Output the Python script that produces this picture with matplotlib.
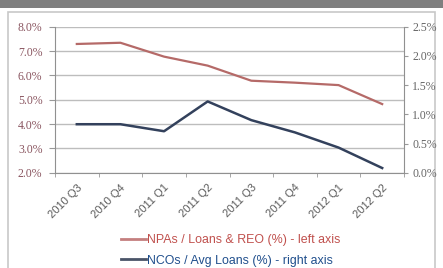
import matplotlib
matplotlib.use('Agg')
import matplotlib.pyplot as plt
from matplotlib.patches import Rectangle
from matplotlib.lines import Line2D
import numpy as np

# Data
quarters = ['2010 Q3', '2010 Q4', '2011 Q1', '2011 Q2', '2011 Q3', '2011 Q4', '2012 Q1', '2012 Q2']
npa_pct = [7.29, 7.34, 6.77, 6.40, 5.78, 5.70, 5.60, 4.82]
nco_pct = [0.83, 0.83, 0.71, 1.22, 0.90, 0.69, 0.43, 0.08]
left_ticks = [2.0, 3.0, 4.0, 5.0, 6.0, 7.0, 8.0]
right_ticks = [0.0, 0.5, 1.0, 1.5, 2.0, 2.5]

red = '#b56a68'
navy = '#33415c'
serif = 'Liberation Serif'

fig = plt.figure(figsize=(4.43, 2.68), dpi=100)
fig.patch.set_facecolor('white')

# header bar and panel border
fig.patches.append(Rectangle((0, 1 - 8 / 268), 1, 8 / 268, transform=fig.transFigure,
                             facecolor='#7f7f7f', edgecolor='none', zorder=-10))
fig.patches.append(Rectangle((8 / 443, -0.01), 427 / 443, 1 - 12 / 268 + 0.01, transform=fig.transFigure,
                             facecolor='white', edgecolor='#c8c8c8', linewidth=1.2, zorder=-10))

ax = fig.add_axes([55 / 443, 1 - 172.7 / 268, (404 - 55) / 443, (172.7 - 26.7) / 268])
x = np.arange(len(quarters))
ax.plot(x, npa_pct, color=red, linewidth=1.6, zorder=3)
ax.set_ylim(2.0, 8.0)
ax.set_yticks(left_ticks)
ax.set_yticklabels(['%.1f%%' % v for v in left_ticks])
ax.set_xlim(-0.5, len(quarters) - 0.5)
ax.set_xticks(x)
ax.set_xticklabels(quarters, rotation=45, ha='right', va='top', rotation_mode='anchor',
                   family='Liberation Sans')
ax.set_xticks(np.arange(-0.5, len(quarters)), minor=True)
ax.tick_params(axis='x', which='major', length=0, pad=7, labelsize=8, labelcolor='#5a5a5a')
ax.tick_params(axis='x', which='minor', length=3, color='#999999', direction='out')
ax.tick_params(axis='y', length=4, color='#999999', labelsize=8.5, labelcolor='#8a5560', pad=5)
for lab in ax.get_yticklabels():
    lab.set_family(serif)
ax.grid(axis='y', color='#bdbdbd', linewidth=1.0)
ax.set_axisbelow(True)
for s in ['top', 'right']:
    ax.spines[s].set_visible(False)
for s in ['left', 'bottom']:
    ax.spines[s].set_color('#909090')
ax.patch.set_alpha(0)

ax2 = ax.twinx()
ax2.plot(x, nco_pct, color=navy, linewidth=1.8, zorder=3)
ax2.set_ylim(0.0, 2.5)
ax2.set_yticks(right_ticks)
ax2.set_yticklabels(['%.1f%%' % v for v in right_ticks])
ax2.tick_params(axis='y', length=3, color='#999999', labelsize=8.5, labelcolor='#666666', pad=3)
for lab in ax2.get_yticklabels():
    lab.set_family(serif)
for s in ['top', 'left', 'bottom']:
    ax2.spines[s].set_visible(False)
ax2.spines['right'].set_color('#909090')

# legend
handles = [Line2D([], [], color='#c47f7f', linewidth=2),
           Line2D([], [], color='#4a5468', linewidth=2)]
labels = ['NPAs / Loans & REO (%) - left axis', 'NCOs / Avg Loans (%) - right axis']
leg = fig.legend(handles, labels, loc='center', bbox_to_anchor=(231 / 443, 1 - 250.5 / 268),
                 frameon=False, handlelength=2.0, handletextpad=0.1, labelspacing=0.7,
                 borderpad=0, prop={'family': 'Liberation Sans', 'size': 8.9})
leg.get_texts()[0].set_color('#c0504d')
leg.get_texts()[1].set_color('#1f4e8c')

fig.savefig('out.png', dpi=100)
